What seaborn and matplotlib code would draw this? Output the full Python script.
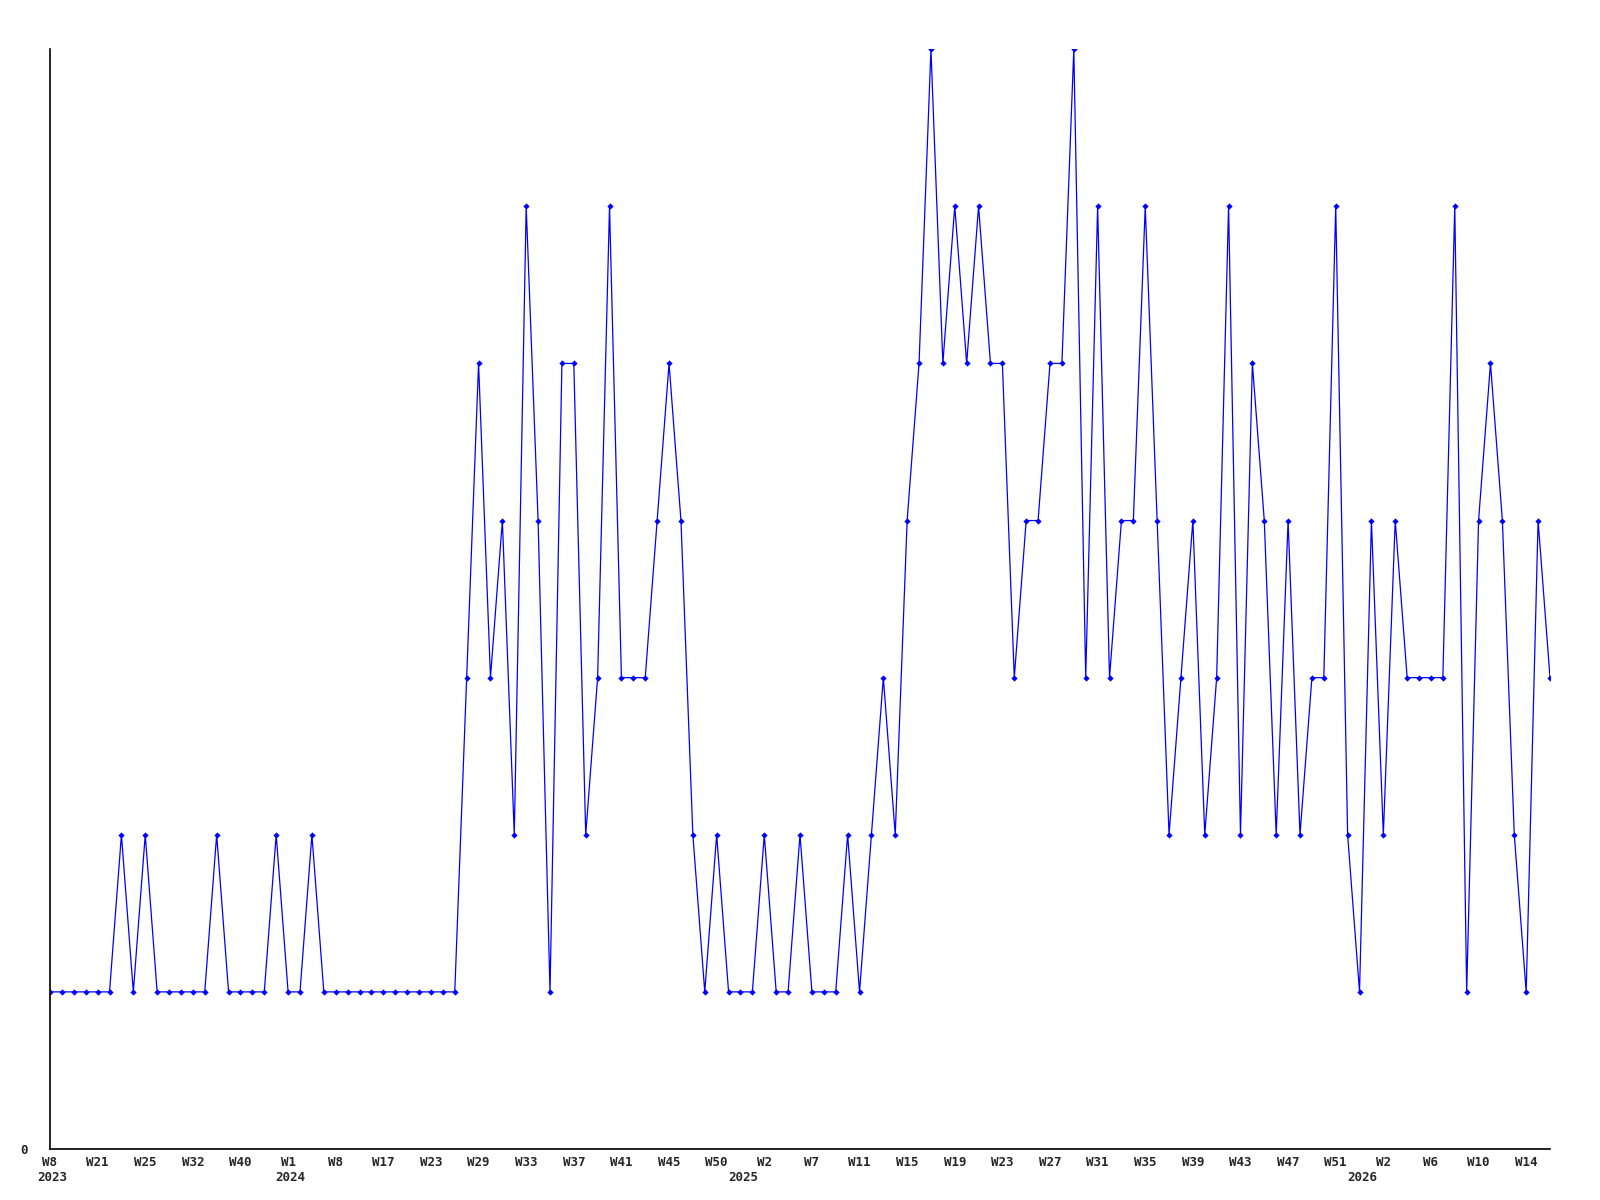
import numpy as np
import pandas as pd
import seaborn as sns
import matplotlib.pyplot as plt
import matplotlib.transforms as mtransforms

# weekly values, one per data point (127 points)
values = [
    1, 1, 1, 1, 1, 1, 2, 1, 2, 1, 1, 1, 1, 1, 2, 1, 1, 1, 1, 2,
    1, 1, 2, 1, 1, 1, 1, 1, 1, 1, 1, 1, 1, 1, 1, 3, 5, 3, 4, 2,
    6, 4, 1, 5, 5, 2, 3, 6, 3, 3, 3, 4, 5, 4, 2, 1, 2, 1, 1, 1,
    2, 1, 1, 2, 1, 1, 1, 2, 1, 2, 3, 2, 4, 5, 7, 5, 6, 5, 6, 5,
    5, 3, 4, 4, 5, 5, 7, 3, 6, 3, 4, 4, 6, 4, 2, 3, 4, 2, 3, 6,
    2, 5, 4, 2, 4, 2, 3, 3, 6, 2, 1, 4, 2, 4, 3, 3, 3, 3, 6, 1,
    4, 5, 4, 2, 1, 4, 3,
]

# tick labels, one every 4 points
week_labels = [
    "W8", "W21", "W25", "W32", "W40", "W1", "W8", "W17", "W23", "W29",
    "W33", "W37", "W41", "W45", "W50", "W2", "W7", "W11", "W15", "W19",
    "W23", "W27", "W31", "W35", "W39", "W43", "W47", "W51", "W2", "W6",
    "W10", "W14",
]
year_labels = ["2023", "2024", "2025", "2026"]
year_index = [0.2, 20.2, 58.2, 110.2]

df = pd.DataFrame({"idx": np.arange(len(values)), "count": values})

sns.set_style("white")
plt.rcParams["font.family"] = ["DejaVu Sans Mono"]

fig = plt.figure(figsize=(16, 12), dpi=100)
ax = fig.add_axes([0.03125, 0.0425, 0.9375, 0.9165])

sns.lineplot(data=df, x="idx", y="count", ax=ax, color="#0000ff",
             linewidth=0.9, marker="D", markersize=3.2,
             markeredgewidth=0, markerfacecolor="#0000ff")

ax.set_xlim(0, len(values) - 1)
ax.set_ylim(0, 7)

ax.set_xticks(np.arange(0, len(values), 4)[:len(week_labels)])
ax.set_xticklabels(week_labels, fontsize=9, fontweight="bold")
ax.set_yticks([0])
ax.set_yticklabels(["0"], fontsize=9, fontweight="bold")
ax.tick_params(axis="x", length=0, pad=5)
ax.tick_params(axis="y", length=0, pad=16)

trans = mtransforms.blended_transform_factory(ax.transData, ax.transAxes)
for pos, lab in zip(year_index, year_labels):
    ax.text(pos, -0.020, lab, transform=trans, ha="center", va="top",
            fontsize=9, fontweight="bold")

ax.set_xlabel("")
ax.set_ylabel("")
for side in ["top", "right"]:
    ax.spines[side].set_visible(False)
for side in ["left", "bottom"]:
    ax.spines[side].set_color("black")
    ax.spines[side].set_linewidth(1.2)

fig.savefig("out.png", dpi=100, facecolor="white")
